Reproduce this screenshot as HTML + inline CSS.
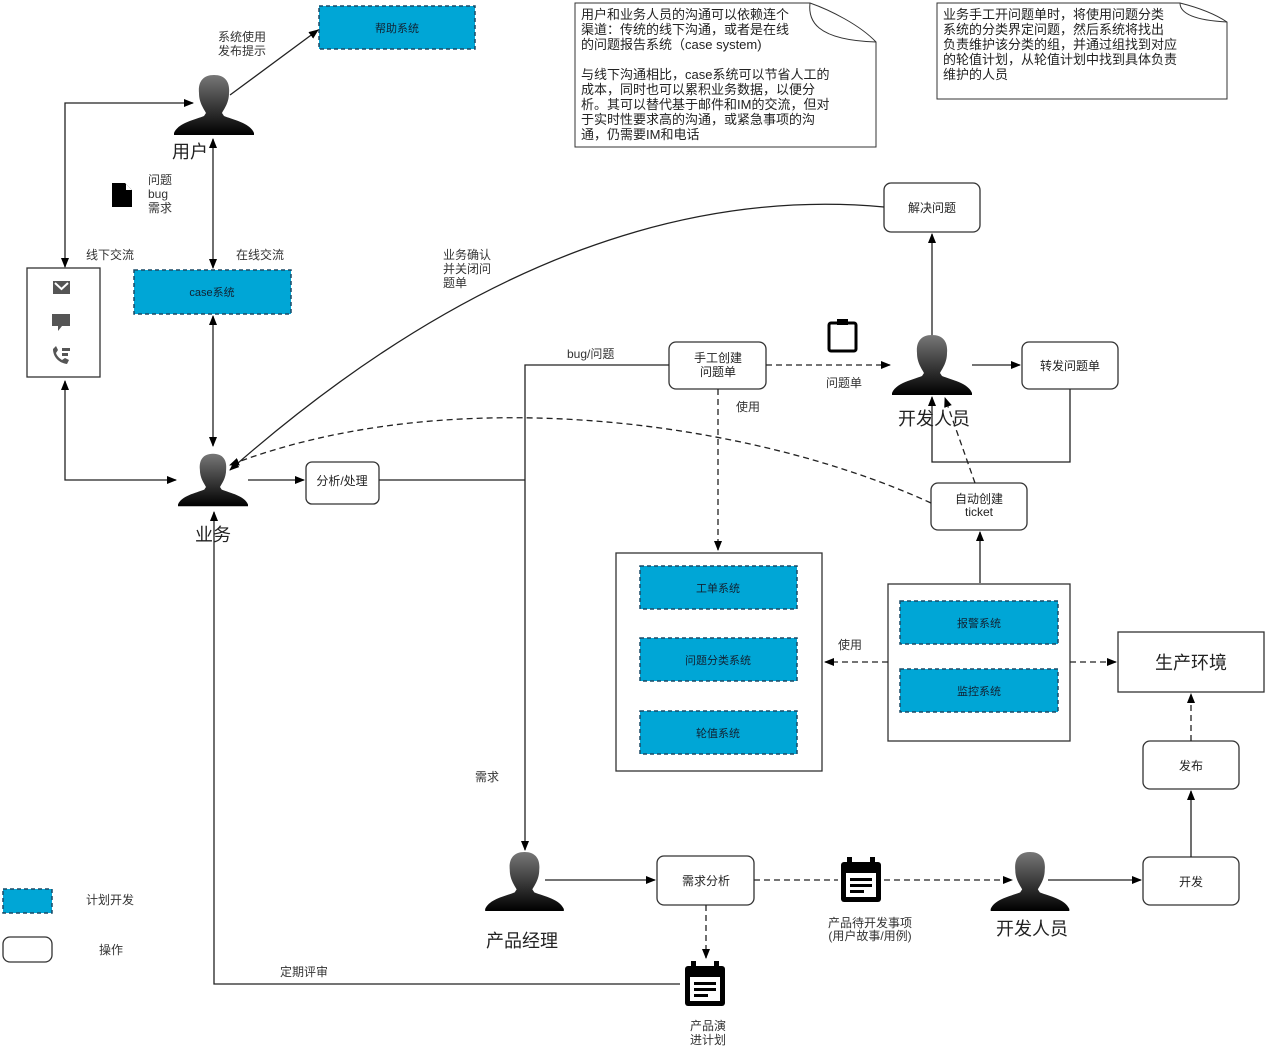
<!DOCTYPE html>
<html><head><meta charset="utf-8"><style>
html,body{margin:0;padding:0;background:#fff;}
svg{display:block;font-family:"Liberation Sans","Noto Sans CJK SC",sans-serif;}
</style></head><body>
<svg width="1267" height="1053" viewBox="0 0 1267 1053" xmlns="http://www.w3.org/2000/svg">
<defs>
<marker id="a" viewBox="0 0 10 10" refX="9" refY="5" markerWidth="10" markerHeight="10" markerUnits="userSpaceOnUse" orient="auto"><path d="M0,1 L10,5 L0,9 z" fill="#000"/></marker>
<marker id="as" viewBox="0 0 10 10" refX="1" refY="5" markerWidth="10" markerHeight="10" markerUnits="userSpaceOnUse" orient="auto"><path d="M10,1 L0,5 L10,9 z" fill="#000"/></marker>
<linearGradient id="g" x1="0" y1="0" x2="0" y2="1"><stop offset="0" stop-color="#777"/><stop offset="1" stop-color="#000"/></linearGradient>
<symbol id="p" viewBox="0 0 80 60"><path d="M40,0 C52,0 56,8 55,18 C55,28 50,34 48,38 L50,41 C60,45 76,48 80,58 L80,60 L0,60 L0,58 C4,48 20,45 30,41 L32,38 C30,34 25,28 25,18 C24,8 28,0 40,0 Z" fill="url(#g)"/></symbol>
<g id="cal"><rect x="3" y="5" width="40" height="40" rx="3" fill="#000"/><rect x="9" y="0" width="5" height="9" fill="#000"/><rect x="32" y="0" width="5" height="9" fill="#000"/><rect x="8" y="16" width="30" height="24" fill="#fff"/><rect x="12" y="21" width="22" height="3" fill="#000"/><rect x="12" y="27" width="22" height="3" fill="#000"/><rect x="12" y="33" width="14" height="3" fill="#000"/></g>
</defs>
<g font-size="12" fill="#222">
<!-- notes -->
<path d="M575,3 H810 C830,10 860,25 876,42 V147 H575 Z" fill="#fff" stroke="#333"/>
<path d="M810,3 C808,20 815,40 876,42" fill="none" stroke="#333"/>
<g font-size="13"><text x="581" y="19">用户和业务人员的沟通可以依赖连个</text><text x="581" y="34">渠道：传统的线下沟通，或者是在线</text><text x="581" y="49">的问题报告系统（case system)</text><text x="581" y="79">与线下沟通相比，case系统可以节省人工的</text><text x="581" y="94">成本，同时也可以累积业务数据，以便分</text><text x="581" y="109">析。其可以替代基于邮件和IM的交流，但对</text><text x="581" y="124">于实时性要求高的沟通，或紧急事项的沟</text><text x="581" y="139">通，仍需要IM和电话</text></g>
<path d="M937,3 H1180 C1200,8 1215,14 1227,22 V99 H937 Z" fill="#fff" stroke="#333"/>
<path d="M1180,3 C1180,12 1190,20 1227,22" fill="none" stroke="#333"/>
<g font-size="13"><text x="943" y="19">业务手工开问题单时，将使用问题分类</text><text x="943" y="34">系统的分类界定问题，然后系统将找出</text><text x="943" y="49">负责维护该分类的组，并通过组找到对应</text><text x="943" y="64">的轮值计划，从轮值计划中找到具体负责</text><text x="943" y="79">维护的人员</text></g>

<!-- plain boxes -->
<g fill="#fff" stroke="#333" stroke-width="1.3">
<rect x="27" y="268" width="73" height="109"/>
<rect x="616" y="553" width="206" height="218"/>
<rect x="888" y="584" width="182" height="157"/>
<rect x="1118" y="632" width="146" height="60"/>
<rect x="306" y="462" width="73" height="42" rx="6"/>
<rect x="669" y="342" width="97" height="47" rx="7"/>
<rect x="884" y="183" width="96" height="49" rx="7"/>
<rect x="1022" y="342" width="96" height="47" rx="7"/>
<rect x="931" y="483" width="96" height="47" rx="7"/>
<rect x="1143" y="741" width="96" height="48" rx="7"/>
<rect x="1143" y="857" width="96" height="48" rx="7"/>
<rect x="657" y="856" width="97" height="49" rx="7"/>
<rect x="3" y="937" width="49" height="25" rx="7"/>
</g>

<!-- blue boxes -->
<g fill="#00a6d6" stroke="#1a4a66" stroke-width="1.5" stroke-dasharray="4,3">
<rect x="319" y="6" width="156" height="43"/><rect x="134" y="270" width="157" height="44"/>
<rect x="640" y="566" width="157" height="43"/><rect x="640" y="638" width="157" height="43"/><rect x="640" y="711" width="157" height="43"/>
<rect x="900" y="601" width="158" height="43"/><rect x="900" y="669" width="158" height="43"/>
<rect x="3" y="889" width="49" height="24"/>
</g>
<g fill="#123" text-anchor="middle" font-size="11"><text x="397" y="32">帮助系统</text><text x="212" y="296">case系统</text><text x="718" y="592">工单系统</text><text x="718" y="664">问题分类系统</text><text x="718" y="737">轮值系统</text><text x="979" y="627">报警系统</text><text x="979" y="695">监控系统</text></g>

<g text-anchor="middle" font-size="12"><text x="342" y="485">分析/处理</text><text x="718" y="362">手工创建</text><text x="718" y="376">问题单</text><text x="932" y="212">解决问题</text><text x="1070" y="370">转发问题单</text><text x="979" y="503">自动创建</text><text x="979" y="516">ticket</text><text x="1191" y="770">发布</text><text x="1191" y="886">开发</text><text x="706" y="885">需求分析</text><text x="1191" y="669" font-size="18">生产环境</text></g>

<!-- icons in 线下交流 -->
<rect x="53" y="281" width="17" height="13" fill="#555"/><path d="M55,283 L61.5,289 L68,283" fill="none" stroke="#fff" stroke-width="2"/>
<path d="M52,314 h18 v12 h-8 l-4,5 v-5 h-6 z" fill="#555"/>
<path d="M53,349 c0,8 6,14 14,15 l2,-4 -4,-2 -3,2 c-3,-2 -5,-4 -6,-7 l2,-3 -2,-4 z" fill="#555"/><rect x="62" y="348" width="8" height="3" fill="#555"/><rect x="62" y="353" width="6" height="3" fill="#555"/>
<!-- doc icon -->
<path d="M112,183 h13 l7,7 v17 h-20 z" fill="#000"/><path d="M126,184 v6 h6 z" fill="#fff"/>
<!-- clipboard -->
<rect x="829" y="323" width="27" height="28" rx="2" fill="none" stroke="#000" stroke-width="3"/><rect x="837" y="319" width="11" height="6" fill="#000"/>
<use href="#cal" x="838" y="857"/><use href="#cal" x="682" y="961"/>

<!-- persons -->
<use href="#p" x="173" y="75" width="82" height="60"/>
<use href="#p" x="178" y="450" width="70" height="60"/>
<use href="#p" x="892" y="335" width="80" height="60"/>
<use href="#p" x="484" y="852" width="81" height="59"/>
<use href="#p" x="990" y="852" width="80" height="59"/>
<g font-size="18" fill="#222"><text x="172" y="158">用户</text><text x="195" y="541">业务</text><text x="898" y="425">开发人员</text><text x="486" y="947">产品经理</text><text x="996" y="935">开发人员</text></g>

<!-- connectors -->
<g fill="none" stroke="#222" stroke-width="1.3">
<path d="M230,95 L318,30" marker-end="url(#a)"/>
<path d="M65,267 V103 H193" marker-start="url(#as)" marker-end="url(#a)"/>
<path d="M65,381 V480 H176" marker-start="url(#as)" marker-end="url(#a)"/>
<path d="M213,139 V268" marker-start="url(#as)" marker-end="url(#a)"/>
<path d="M213,316 V446" marker-start="url(#as)" marker-end="url(#a)"/>
<path d="M248,480 H304" marker-end="url(#a)"/>
<path d="M379,480 H525"/>
<path d="M669,365 H525 V850" marker-end="url(#a)"/>
<path d="M932,335 V234" marker-end="url(#a)"/>
<path d="M972,365 H1020" marker-end="url(#a)"/>
<path d="M1070,389 V462 H932 V397" marker-end="url(#a)"/>
<path d="M980,583 V532" marker-end="url(#a)"/>
<path d="M1191,857 V791" marker-end="url(#a)"/>
<path d="M1048,880 H1141" marker-end="url(#a)"/>
<path d="M545,880 H655" marker-end="url(#a)"/>
<path d="M680,984 H214 V512" marker-end="url(#a)"/>
<path d="M884,207 C700,190 480,250 230,470" marker-end="url(#a)"/>
</g>
<g fill="none" stroke="#222" stroke-width="1.3" stroke-dasharray="6,4">
<path d="M766,365 H890" marker-end="url(#a)"/>
<path d="M718,389 V550" marker-end="url(#a)"/>
<path d="M975,483 L945,398" marker-end="url(#a)"/>
<path d="M931,503 C750,420 450,380 230,465" marker-end="url(#a)"/>
<path d="M888,662 H825" marker-end="url(#a)"/>
<path d="M1070,662 H1116" marker-end="url(#a)"/>
<path d="M1191,741 V694" marker-end="url(#a)"/>
<path d="M754,880 H838"/><path d="M884,880 H1012" marker-end="url(#a)"/>
<path d="M706,905 V958" marker-end="url(#a)"/>
</g>

<!-- labels -->
<g font-size="12" fill="#333">
<text x="218" y="41">系统使用</text><text x="218" y="55">发布提示</text>
<text x="148" y="184">问题</text><text x="148" y="198">bug</text><text x="148" y="212">需求</text>
<text x="86" y="259">线下交流</text><text x="236" y="259">在线交流</text>
<text x="443" y="259">业务确认</text><text x="443" y="273">并关闭问</text><text x="443" y="287">题单</text>
<text x="567" y="358">bug/问题</text><text x="826" y="387">问题单</text><text x="736" y="411">使用</text>
<text x="838" y="649">使用</text><text x="475" y="781">需求</text><text x="280" y="976">定期评审</text>
<text x="870" y="927" text-anchor="middle">产品待开发事项</text><text x="870" y="940" text-anchor="middle">(用户故事/用例)</text>
<text x="708" y="1030" text-anchor="middle">产品演</text><text x="708" y="1044" text-anchor="middle">进计划</text>
<text x="86" y="904">计划开发</text><text x="99" y="954">操作</text>
</g>
</g>
</svg>
</body></html>
